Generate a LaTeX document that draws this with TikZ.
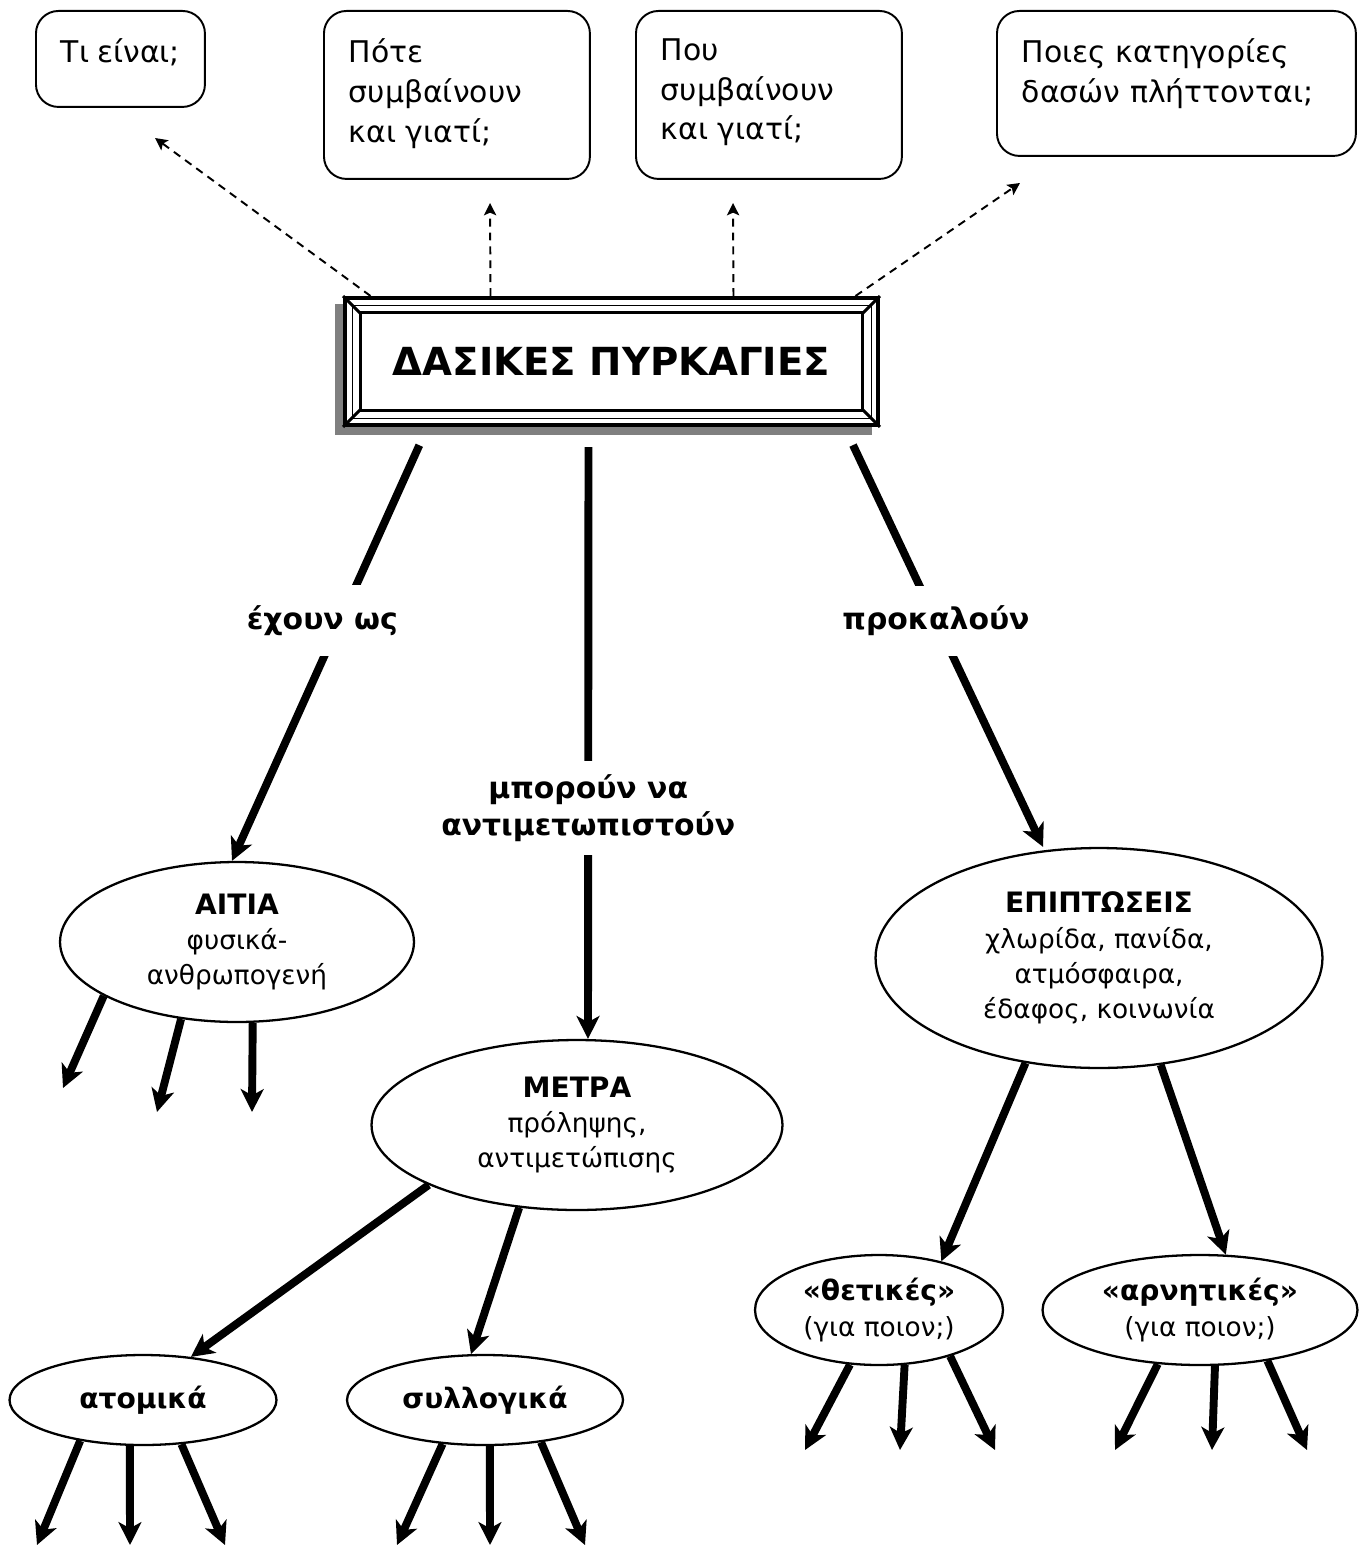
\documentclass[tikz,border=0pt]{standalone}
\usepackage{fontspec}
\setmainfont{DejaVu Sans}
\usetikzlibrary{arrows.meta,shapes.geometric,backgrounds}
\definecolor{shadowgray}{HTML}{808080}
\tikzset{
  qbox/.style={draw, line width=1.1pt, rounded corners=0.45cm, anchor=north west,
    inner xsep=0.5cm, inner ysep=0.55cm, font=\fontsize{17}{22.7}\selectfont},
  oval/.style={draw, ellipse, line width=1.3pt, inner sep=0pt, align=center,
    font=\fontsize{15}{20}\selectfont},
  titlebox/.style={draw, fill=white, line width=2.3pt, minimum width=10.66cm,
    minimum height=2.54cm, font=\fontsize{22}{26}\bfseries},
  bigarrow/.style={line width=4.5pt, -{Stealth[length=13pt,width=13pt,inset=3.5pt]}},
  hint/.style={line width=1.1pt, dash pattern=on 4.5pt off 3.4pt,
    -{Stealth[length=7pt,width=7pt,inset=1.5pt]}},
  lbl/.style={fill=white, font=\fontsize{17}{21}\bfseries, align=center}
}
\newcommand{\ovalhead}[1]{{\fontsize{16}{20}\bfseries #1}}

\begin{document}
\begin{tikzpicture}[x=0.02cm,y=-0.02cm]
\useasboundingbox (0,0) rectangle (1369,1547);

% questions
\node[qbox] (what)  at (35,10)  {\parbox[c][0.82cm][t]{2.38cm}{Τι είναι;}};
\node[qbox] (when)  at (323,10) {\parbox[c][2.26cm][t]{4.32cm}{Πότε\\συμβαίνουν\\και γιατί;}};
\node[qbox] (where) at (635,10) {\parbox[c][2.26cm][t]{4.32cm}{Που\\συμβαίνουν\\και γιατί;}};
\node[qbox] (which) at (996,10) {\parbox[c][1.8cm][t]{6.18cm}{Ποιες κατηγορίες\\δασών πλήττονται;}};

% title
\node[titlebox] (title) at (611.5,361.5) {ΔΑΣΙΚΕΣ ΠΥΡΚΑΓΙΕΣ};
\begin{scope}[on background layer]
\fill[shadowgray] ([shift={(-0.16cm,-0.16cm)}]title.north west) rectangle ([shift={(-0.16cm,-0.16cm)}]title.south east);
\end{scope}
\draw[line width=0.5pt] ([shift={(0.18cm,-0.18cm)}]title.north west) rectangle ([shift={(-0.18cm,0.18cm)}]title.south east);
\draw[line width=1.7pt] ([shift={(0.34cm,-0.34cm)}]title.north west) rectangle ([shift={(-0.34cm,0.34cm)}]title.south east);
\draw[line width=1.7pt] (title.north west) -- ++(0.34cm,-0.34cm);
\draw[line width=1.7pt] (title.north east) -- ++(-0.34cm,-0.34cm);
\draw[line width=1.7pt] (title.south west) -- ++(0.34cm,0.34cm);
\draw[line width=1.7pt] (title.south east) -- ++(-0.34cm,0.34cm);

% dashed hints
\coordinate (whatend)  at (155,138);
\coordinate (whenend)  at (490,203);
\coordinate (whereend) at (733,203);
\coordinate (whichend) at (1020,183);
\draw[hint] ([xshift=-4.82cm]title.north) -- (whatend);
\draw[hint] ([xshift=-2.42cm]title.north) -- (whenend);
\draw[hint] ([xshift=2.44cm]title.north) -- (whereend);
\draw[hint] ([xshift=4.88cm]title.north) -- (whichend);

% ovals
\node[oval, minimum width=7.08cm, minimum height=3.2cm] (aitia) at (237,942)
  {\ovalhead{ΑΙΤΙΑ}\\φυσικά-\\ανθρωπογενή};
\node[oval, minimum width=8.22cm, minimum height=3.4cm] (metra) at (577,1125)
  {\ovalhead{ΜΕΤΡΑ}\\πρόληψης,\\αντιμετώπισης};
\node[oval, minimum width=8.94cm, minimum height=4.4cm] (epiptoseis) at (1099,958)
  {\ovalhead{ΕΠΙΠΤΩΣΕΙΣ}\\χλωρίδα, πανίδα,\\ατμόσφαιρα,\\έδαφος, κοινωνία};
\node[oval, minimum width=4.96cm, minimum height=2.2cm] (thetikes) at (879,1310)
  {\ovalhead{«θετικές»}\\(για ποιον;)};
\node[oval, minimum width=6.3cm, minimum height=2.2cm] (arnitikes) at (1200,1310)
  {\ovalhead{«αρνητικές»}\\(για ποιον;)};
\node[oval, minimum width=5.34cm, minimum height=1.8cm] (atomika) at (143,1400)
  {\ovalhead{ατομικά}};
\node[oval, minimum width=5.52cm, minimum height=1.8cm] (syllogika) at (485,1400)
  {\ovalhead{συλλογικά}};

% main links
\draw[bigarrow, shorten <=0.4cm] ([xshift=-3.68cm]title.south) --
  node[lbl, pos=0.446, xshift=-0.36cm, inner ysep=0.4cm] {έχουν ως} ([xshift=-0.1cm]aitia.north);
\draw[bigarrow, shorten <=0.4cm] ([xshift=-0.46cm]title.south) --
  node[lbl, pos=0.623, inner ysep=0.27cm] {μπορούν να\\αντιμετωπιστούν} ([xshift=0.22cm]metra.north);
\draw[bigarrow, shorten <=0.4cm] ([xshift=4.66cm]title.south) --
  node[lbl, pos=0.461, inner ysep=0.4cm] {προκαλούν} ([xshift=-1.12cm]epiptoseis.north);

\draw[bigarrow] (metra.202) -- (atomika.42);
\draw[bigarrow] (metra.235) -- (syllogika.107);
\draw[bigarrow] (epiptoseis.235) -- (thetikes.38);
\draw[bigarrow] (epiptoseis.300) -- (arnitikes.65);

% open ends
\coordinate (ai1) at (63,1088);
\coordinate (ai2) at (157,1112);
\coordinate (ai3) at (252,1112);
\coordinate (th1) at (805,1450);
\coordinate (th2) at (900,1450);
\coordinate (th3) at (995,1450);
\coordinate (ar1) at (1115,1450);
\coordinate (ar2) at (1212,1450);
\coordinate (ar3) at (1307,1450);
\coordinate (at1) at (37,1545);
\coordinate (at2) at (130,1545);
\coordinate (at3) at (225,1545);
\coordinate (sy1) at (397,1545);
\coordinate (sy2) at (490,1545);
\coordinate (sy3) at (585,1545);

\foreach \a/\e in {202/ai1, 234/ai2, 281/ai3}
  \draw[bigarrow] (aitia.\a) -- (\e);
\foreach \a/\e in {242/th1, 295/th2, 327/th3}
  \draw[bigarrow] (thetikes.\a) -- (\e);
\foreach \a/\e in {232/ar1, 285/ar2, 323/ar3}
  \draw[bigarrow] (arnitikes.\a) -- (\e);
\foreach \a/\e in {213/at1, 254/at2, 311/at3}
  \draw[bigarrow] (atomika.\a) -- (\e);
\foreach \a/\e in {226/sy1, 276/sy2, 323/sy3}
  \draw[bigarrow] (syllogika.\a) -- (\e);
\end{tikzpicture}
\end{document}
